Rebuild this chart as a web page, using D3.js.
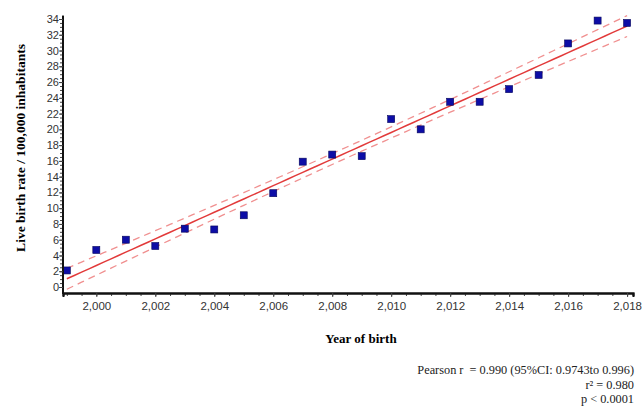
<!DOCTYPE html>
<html>
<head>
<meta charset="utf-8">
<script src="https://cdn.jsdelivr.net/npm/d3@7"></script>
<style>
  body { margin: 0; background: #fff; }
  svg { display: block; }
</style>
</head>
<body>
<script>
(function() {

// observed values
var years = [1999, 2000, 2001, 2002, 2003, 2004, 2005, 2006, 2007, 2008,
             2009, 2010, 2011, 2012, 2013, 2014, 2015, 2016, 2017, 2018];
var rates = [2.1, 4.7, 6.0, 5.2, 7.4, 7.3, 9.1, 11.9, 15.9, 16.8,
             16.6, 21.3, 20.0, 23.5, 23.5, 25.1, 26.9, 30.9, 33.8, 33.5];

var xTicks = [2000, 2002, 2004, 2006, 2008, 2010, 2012, 2014, 2016, 2018];
var yTicks = [0, 2, 4, 6, 8, 10, 12, 14, 16, 18, 20, 22, 24, 26, 28, 30, 32, 34];
var statLines = ["Pearson r \u00a0= 0.990 (95%CI: 0.9743to 0.996)", "r² = 0.980", "p < 0.0001"];

var width = 642, height = 407;

var svg = d3.select("body").append("svg")
    .attr("width", width)
    .attr("height", height);

// scales
var x = d3.scaleLinear().domain([1998.87, 2018.2]).range([63, 633]);
var y = d3.scaleLinear().domain([0, 34]).range([287, 19]);

var xAxisY = 293;

// linear fit + 95% confidence band
var n = years.length;
var mx = d3.mean(years), my = d3.mean(rates);
var sxx = d3.sum(years, function(v) { return (v - mx) * (v - mx); });
var sxy = d3.sum(years, function(v, i) { return (v - mx) * (rates[i] - my); });
var slope = sxy / sxx, icpt = my - slope * mx;
var sse = d3.sum(years, function(v, i) { var e = rates[i] - (icpt + slope * v); return e * e; });
var s = Math.sqrt(sse / (n - 2));
var tval = 2.101;

var fitX = d3.range(1999, 2018.01, 0.25);
var fit = fitX.map(function(v) {
    var yh = icpt + slope * v;
    var half = tval * s * Math.sqrt(1 / n + (v - mx) * (v - mx) / sxx);
    return { x: v, y: yh, lo: yh - half, hi: yh + half };
});

var line = function(key) {
    return d3.line()
        .x(function(d) { return x(d.x); })
        .y(function(d) { return y(d[key]); });
};

svg.append("path").datum(fit)
    .attr("d", line("hi"))
    .attr("fill", "none")
    .attr("stroke", "#f09090")
    .attr("stroke-width", 1.3)
    .attr("stroke-dasharray", "7,5");
svg.append("path").datum(fit)
    .attr("d", line("lo"))
    .attr("fill", "none")
    .attr("stroke", "#f09090")
    .attr("stroke-width", 1.3)
    .attr("stroke-dasharray", "7,5");
svg.append("path").datum(fit)
    .attr("d", line("y"))
    .attr("fill", "none")
    .attr("stroke", "#e23a3a")
    .attr("stroke-width", 1.5);

// points
svg.selectAll("rect.pt")
    .data(years)
    .enter()
    .append("rect")
    .attr("class", "pt")
    .attr("x", function(d) { return x(d) - 3.5; })
    .attr("y", function(d, i) { return y(rates[i]) - 3.5; })
    .attr("width", 7)
    .attr("height", 7)
    .attr("fill", "#0d0da6")
    .attr("stroke", "#06065a")
    .attr("stroke-width", 0.6);

// x axis
var xAxis = svg.append("g")
    .attr("transform", "translate(0," + xAxisY + ")");
xAxis.call(d3.axisBottom(x).tickValues(d3.range(1999, 2018.01, 0.5)).tickSize(3).tickFormat(""));
xAxis.call(function(g) {
    g.append("g").call(d3.axisBottom(x).tickValues(xTicks).tickSize(4)
        .tickFormat(d3.format(",")));
});
xAxis.selectAll(".domain").attr("stroke", "#111").attr("stroke-width", 2);
xAxis.selectAll("line").attr("stroke", "#444");
xAxis.selectAll("text")
    .attr("font-family", "Liberation Sans, Arial, sans-serif")
    .attr("font-size", 11.5)
    .attr("fill", "#333")
    .attr("dy", "0.85em");

// y axis
var yAxis = svg.append("g")
    .attr("transform", "translate(63,0)");
yAxis.call(d3.axisLeft(y).tickValues(d3.range(0, 34.01, 0.5)).tickSize(3).tickFormat(""));
yAxis.call(function(g) {
    g.append("g").call(d3.axisLeft(y).tickValues(yTicks).tickSize(4));
});
yAxis.selectAll(".domain").attr("stroke", "#111").attr("stroke-width", 2)
    .attr("d", "M0," + y(34.4) + "V" + (xAxisY + 1));
yAxis.selectAll("line").attr("stroke", "#444");
yAxis.selectAll("text")
    .attr("font-family", "Liberation Sans, Arial, sans-serif")
    .attr("font-size", 11)
    .attr("fill", "#333")
    .attr("x", -4);

// titles
svg.append("text")
    .attr("transform", "translate(25,148) rotate(-90)")
    .attr("text-anchor", "middle")
    .attr("font-family", "Liberation Serif, Times New Roman, serif")
    .attr("font-weight", "bold")
    .attr("font-size", 13.5)
    .text("Live birth rate / 100,000 inhabitants");

svg.append("text")
    .attr("x", 361)
    .attr("y", 343)
    .attr("text-anchor", "middle")
    .attr("font-family", "Liberation Serif, Times New Roman, serif")
    .attr("font-weight", "bold")
    .attr("font-size", 13)
    .text("Year of birth");

svg.selectAll("text.stat")
    .data(statLines)
    .enter()
    .append("text")
    .attr("class", "stat")
    .attr("x", 634)
    .attr("y", function(d, i) { return 374 + i * 14.5; })
    .attr("text-anchor", "end")
    .attr("font-family", "Liberation Serif, Times New Roman, serif")
    .attr("font-size", 12.3)
    .attr("fill", "#222")
    .text(function(d) { return d; });

})();
</script>
</body>
</html>
